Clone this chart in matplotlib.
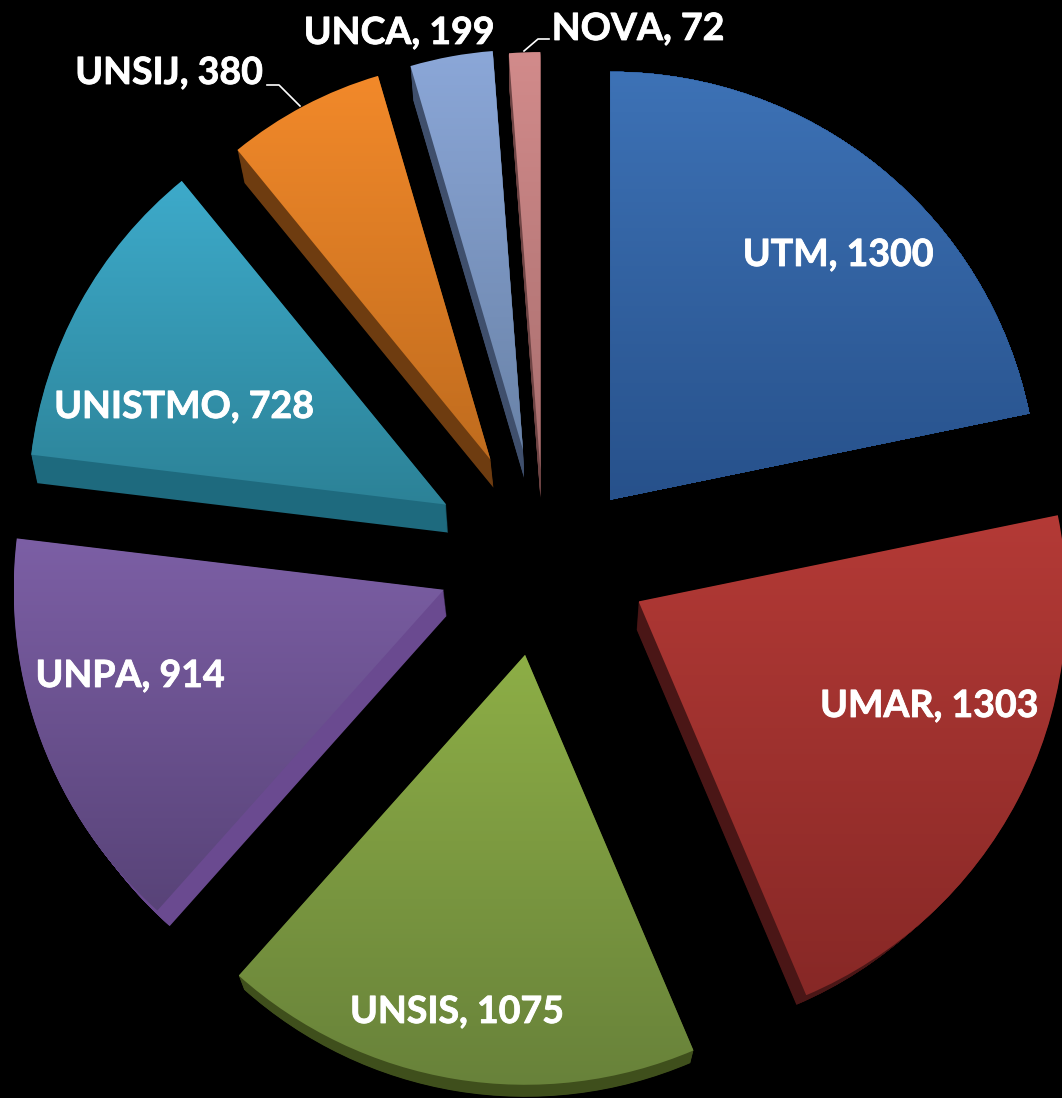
import numpy as np
import matplotlib
matplotlib.use('Agg')
import matplotlib.pyplot as plt
import matplotlib.patheffects as pe
from matplotlib.colors import LinearSegmentedColormap

W, H = 1062, 1098

names = ['UTM', 'UMAR', 'UNSIS', 'UNPA', 'UNISTMO', 'UNSIJ', 'UNCA', 'NOVA']
values = [1300, 1303, 1075, 914, 728, 380, 199, 72]

# look of each slice
explode = [92, 100, 92, 104, 115, 119, 117, 95]
radii = [428, 428, 430, 430, 418, 400, 400, 418]
nudge_x = [7, 5, -5, -4, 2, 1, -1, -1]
nudge_y = [6, -10, -1, -12, -5, 0, 0, 0]
top_col = ['#3d72b6', '#b43a36', '#8dae46', '#7c5fa5', '#3daaca', '#f2892a', '#8ba7d8', '#d28b8b']
bot_col = ['#27518b', '#872826', '#68823a', '#584378', '#2c8297', '#c06c1e', '#6a83a8', '#a86e6e']
side_col = ['#2a5590', '#4a1616', '#3f4f1c', '#6a4a90', '#1e6a7e', '#6e3c10', '#3f4f6c', '#6e4444']
side_dx = [0, -2, 0, 3, 2, 3, 1, 0]
side_dy = [0, 28, 20, 26, 28, 28, 28, 28]
side_shrink = [0, 20, 8, 14, 4, 6, 6, 6]

label_x = [838, 929, 457, 130, 184, 169, 399, 638]
label_y = [255, 706, 1012, 676, 407, 73, 33, 29]

cx, cy = 545, H - 565


def draw_pie(frac):
    wedges, _ = ax.pie(values, explode=explode, startangle=90, counterclock=False,
                       radius=428, center=(cx, cy), colors=side_col,
                       wedgeprops={'linewidth': 0})
    for i, w in enumerate(wedges):
        w.set_radius(radii[i] - side_shrink[i] * frac)
        x0, y0 = w.center
        w.set_center((x0 + nudge_x[i] + side_dx[i] * frac,
                      y0 - nudge_y[i] - side_dy[i] * frac))
    return wedges


fig = plt.figure(figsize=(W / 100, H / 100), dpi=100, facecolor='black')
ax = fig.add_axes([0, 0, 1, 1], facecolor='black')

# extruded sides are stacked copies, the top face goes last
for frac in np.linspace(1, 0.02, 30):
    draw_pie(frac)

for i, w in enumerate(draw_pie(0)):
    box = w.get_path().get_extents(w.get_patch_transform())
    cmap = LinearSegmentedColormap.from_list('g', [top_col[i], bot_col[i]])
    im = ax.imshow(np.linspace(0, 1, 256).reshape(-1, 1), cmap=cmap, aspect='auto',
                   extent=(box.x0, box.x1, box.y0, box.y1), origin='upper', zorder=3)
    im.set_clip_path(w)
    w.set_visible(False)

for n, v, x, y in zip(names, values, label_x, label_y):
    t = ax.text(x, H - y, f'{n}, {v}', color='white', ha='center', va='center',
                fontsize=27, fontweight='bold', family=['Lato', 'DejaVu Sans'], zorder=5)
    t.set_path_effects([pe.withStroke(linewidth=0.6, foreground='white')])

# leader lines of the two small labels
ax.plot([267, 279, 300], [H - 85, H - 85, H - 106], color='white', lw=1.2, zorder=5)
ax.plot([524, 538, 549], [H - 51, H - 39, H - 39], color='white', lw=1.2, zorder=5)

ax.set_xlim(0, W)
ax.set_ylim(0, H)
ax.set_aspect('auto')
ax.axis('off')
fig.savefig('out.png', dpi=100, facecolor='black')
